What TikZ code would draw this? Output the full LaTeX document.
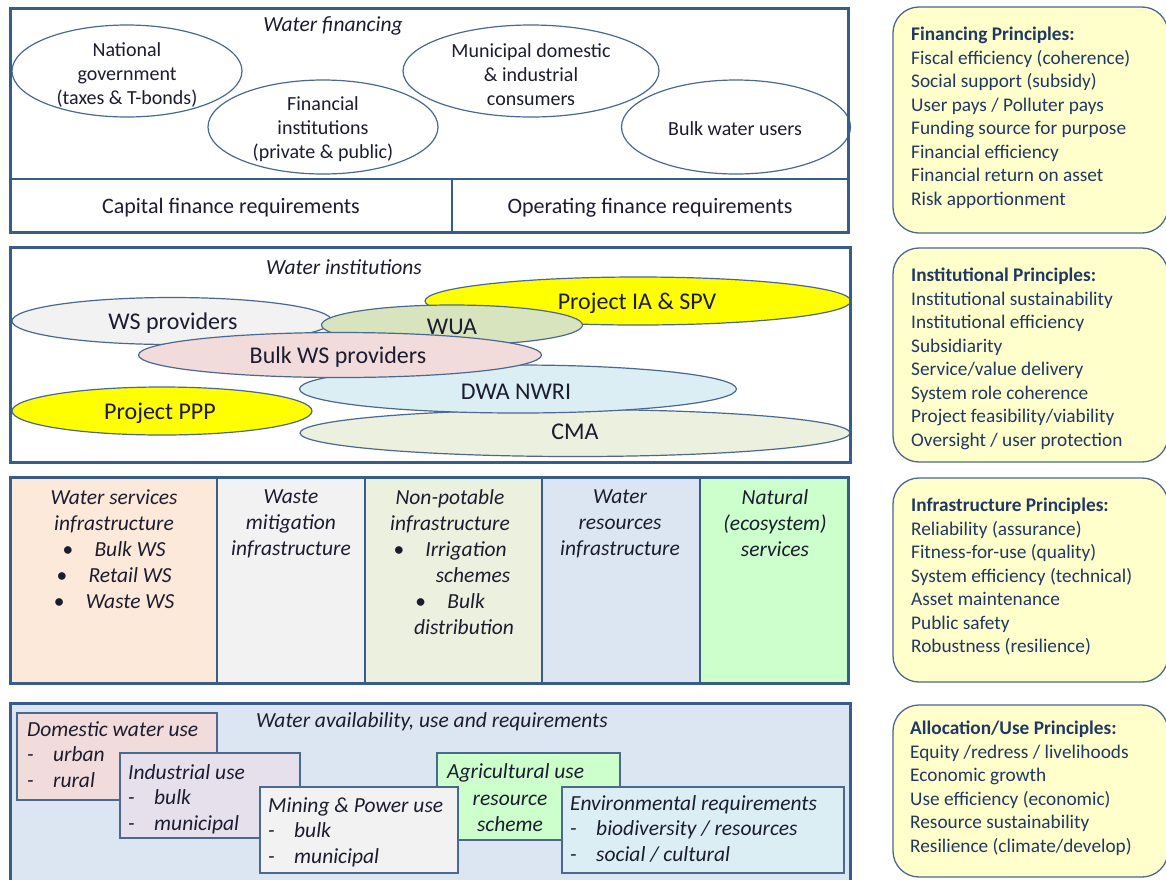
\documentclass[tikz,border=0pt]{standalone}
\usepackage{fontspec}
\setmainfont{Carlito}
\usetikzlibrary{shapes.geometric}
\definecolor{framec}{HTML}{385D8A}
\definecolor{ellc}{HTML}{4A6890}
\definecolor{txtc}{HTML}{1C1C30}
\definecolor{princc}{HTML}{203864}
\definecolor{pfill}{HTML}{FFFFCC}
\definecolor{yel}{HTML}{FFFF00}
\definecolor{wsfill}{HTML}{F2F2F2}
\definecolor{wuafill}{HTML}{D7E4BD}
\definecolor{cmafill}{HTML}{EBF1DE}
\definecolor{dwafill}{HTML}{DBEEF4}
\definecolor{bwsfill}{HTML}{F2DCDB}
\definecolor{colA}{HTML}{FDE9D9}
\definecolor{colB}{HTML}{F2F2F2}
\definecolor{colC}{HTML}{EBF1DE}
\definecolor{colD}{HTML}{DCE6F2}
\definecolor{colE}{HTML}{CCFFCC}
\definecolor{availfill}{HTML}{DCE6F2}
\definecolor{indfill}{HTML}{E6E0EC}
\newcommand\myfinfont{\fontsize{20}{24}\selectfont}
\newcommand\mycapfont{\fontsize{22}{26}\selectfont}
\newcommand\myinsfont{\fontsize{24}{28}\selectfont}
\newcommand\mymainfont{\fontsize{21.5}{26}\selectfont\itshape}
\newcommand\myusefont{\fontsize{21.5}{25.5}\selectfont\itshape}
\newcommand\mydashitem[1]{\makebox[26pt][l]{-}#1}
\begin{document}
\begin{tikzpicture}[x=1pt,y=-1pt,
  txt/.style={text=txtc, inner sep=0pt, align=center},
  ltxt/.style={text=txtc, inner sep=0pt, align=left, anchor=north west, font=\myusefont},
  ell/.style={ellipse, draw=ellc, line width=1.2pt, inner sep=0pt},
  princ/.style={text=princc, inner sep=0pt, align=left, anchor=north west, font=\fontsize{19.3}{23.5}\selectfont},
  pbox/.style={draw=ellc, fill=pfill, line width=1.3pt, rounded corners=26pt},
  fr/.style={draw=framec, line width=3pt},
  divl/.style={draw=framec, line width=1.8pt},
  ubox/.style={draw=ellc, line width=1.3pt}
]
\useasboundingbox (0,0) rectangle (1166,879);
\clip (0,0) rectangle (1166,879);
\fill[white] (0,0) rectangle (1166,879);

% ---------- Water financing ----------
\node[txt, font=\mymainfont] (fintitle) at (333,26) {Water financing};
\node[ell, minimum width=230pt, minimum height=92pt] (ng) at (127,71) {};
\node[txt, font=\myfinfont] (ngt) at (127,75) {National\\government\\(taxes \& T-bonds)};
\node[ell, minimum width=230pt, minimum height=94pt] (fi) at (323,127) {};
\node[txt, font=\myfinfont] (fit) at (323,129) {Financial\\institutions\\(private \& public)};
\node[ell, minimum width=256pt, minimum height=92pt] (mu) at (531,71) {};
\node[txt, font=\myfinfont] (mut) at (531,75) {Municipal domestic\\\& industrial\\consumers};
\node[ell, minimum width=229pt, minimum height=94pt] (bw) at (736,127) {};
\node[txt, font=\myfinfont] (bwt) at (735,129) {Bulk water users};
\draw[divl] (10,179) -- (848,179);
\draw[divl] (452,179) -- (452,232);
\node[txt, font=\mycapfont] (cap) at (231,208) {Capital finance requirements};
\node[txt, font=\mycapfont] (ope) at (650,208) {Operating finance requirements};
\draw[fr] (10,8) rectangle (848,232);

% ---------- Water institutions ----------
\node[txt, font=\mymainfont] (institle) at (344,267) {Water institutions};
\node[ell, fill=yel, minimum width=426pt, minimum height=48pt] (ia) at (638,301) {};
\node[ell, fill=wsfill, minimum width=320pt, minimum height=47pt] (ws) at (172,321) {};
\node[ell, fill=wuafill, minimum width=261pt, minimum height=40pt] (wua) at (452,325) {};
\node[ell, fill=cmafill, minimum width=550pt, minimum height=47pt] (cma) at (575,433) {};
\node[ell, fill=dwafill, minimum width=437pt, minimum height=48pt] (dwa) at (518,389) {};
\node[ell, fill=bwsfill, minimum width=403pt, minimum height=45pt] (bws) at (340,355) {};
\node[ell, fill=yel, minimum width=300pt, minimum height=48pt] (ppp) at (162,411) {};
\node[txt, font=\myinsfont] (iat) at (637,303) {Project IA \& SPV};
\node[txt, font=\myinsfont] (wst) at (173,323) {WS providers};
\node[txt, font=\myinsfont] (wuat) at (452,327) {WUA};
\node[txt, font=\myinsfont] (cmat) at (575,432) {CMA};
\node[txt, font=\myinsfont] (dwat) at (516,392) {DWA NWRI};
\node[txt, font=\myinsfont] (bwst) at (338,357) {Bulk WS providers};
\node[txt, font=\myinsfont] (pppt) at (160,413) {Project PPP};
\draw[fr] (10,247) rectangle (850,462);

% ---------- Infrastructure ----------
\fill[colA] (10,477) rectangle (217,683);
\fill[colB] (217,477) rectangle (365,683);
\fill[colC] (365,477) rectangle (542,683);
\fill[colD] (542,477) rectangle (700,683);
\fill[colE] (700,477) rectangle (848,683);
\draw[divl] (217,477) -- (217,683);
\draw[divl] (365,477) -- (365,683);
\draw[divl] (542,477) -- (542,683);
\draw[divl] (700,477) -- (700,683);
\node[txt, font=\mymainfont, anchor=north] (c1) at (114,489)
  {Water services\\infrastructure\\\textbullet\hspace{1em}Bulk WS\\\textbullet\hspace{1em}Retail WS\\\textbullet\hspace{1em}Waste WS};
\node[txt, font=\mymainfont, anchor=north] (c2) at (291,489) {Waste\\mitigation\\infrastructure};
\node[txt, font=\mymainfont, anchor=north] (c3) at (450,489)
  {Non-potable\\infrastructure\\\textbullet\hspace{1em}Irrigation\\\hspace{46pt}schemes\\\textbullet\hspace{1em}Bulk\\\hspace{28pt}distribution};
\node[txt, font=\mymainfont, anchor=north] (c4) at (620,489) {Water\\resources\\infrastructure};
\node[txt, font=\mymainfont, anchor=north] (c5) at (775,489) {Natural\\(ecosystem)\\services};
\draw[fr] (10,477) rectangle (848,683);

% ---------- Water availability ----------
\fill[availfill] (10,703) rectangle (850,895);
\node[txt, font=\mymainfont] (avtitle) at (432,722) {Water availability, use and requirements};
\draw[ubox, fill=bwsfill] (17,713) rectangle (217,800);
\node[ltxt] (dom) at (27,721) {Domestic water use\\\mydashitem{urban}\\\mydashitem{rural}};
\draw[ubox, fill=indfill] (120,753) rectangle (300,838);
\node[ltxt] (ind) at (128,764) {Industrial use\\\mydashitem{bulk}\\\mydashitem{municipal}};
\draw[ubox, fill=colE] (437,753) rectangle (620,840);
\node[ltxt] (agr) at (447,763) {Agricultural use};
\node[txt, font=\myusefont, anchor=north] (agr2) at (510,795) {resource\\scheme};
\draw[ubox, fill=wsfill] (260,787) rectangle (458,873);
\node[ltxt] (min) at (268,797) {Mining \& Power use\\\mydashitem{bulk}\\\mydashitem{municipal}};
\draw[ubox, fill=dwafill] (562,787) rectangle (844,873);
\node[ltxt] (env) at (570,795) {Environmental requirements\\\mydashitem{biodiversity / resources}\\\mydashitem{social / cultural}};
\draw[fr] (10,703) rectangle (850,895);

% ---------- Principles ----------
\draw[pbox] (893,7) rectangle (1168,233);
\node[princ] (p1) at (911,27) {\textbf{Financing Principles:}\\Fiscal efficiency (coherence)\\Social support (subsidy)\\User pays / Polluter pays\\Funding source for purpose\\Financial efficiency\\Financial return on asset\\Risk apportionment};
\draw[pbox] (893,248) rectangle (1168,462);
\node[princ] (p2) at (911,268) {\textbf{Institutional Principles:}\\Institutional sustainability\\Institutional efficiency\\Subsidiarity\\Service/value delivery\\System role coherence\\Project feasibility/viability\\Oversight / user protection};
\draw[pbox] (893,478) rectangle (1168,682);
\node[princ] (p3) at (911,498) {\textbf{Infrastructure Principles:}\\Reliability (assurance)\\Fitness-for-use (quality)\\System efficiency (technical)\\Asset maintenance\\Public safety\\Robustness (resilience)};
\draw[pbox] (893,705) rectangle (1168,877);
\node[princ] (p4) at (910,721) {\textbf{Allocation/Use Principles:}\\Equity /redress / livelihoods\\Economic growth\\Use efficiency (economic)\\Resource sustainability\\Resilience (climate/develop)};
\end{tikzpicture}
\end{document}
